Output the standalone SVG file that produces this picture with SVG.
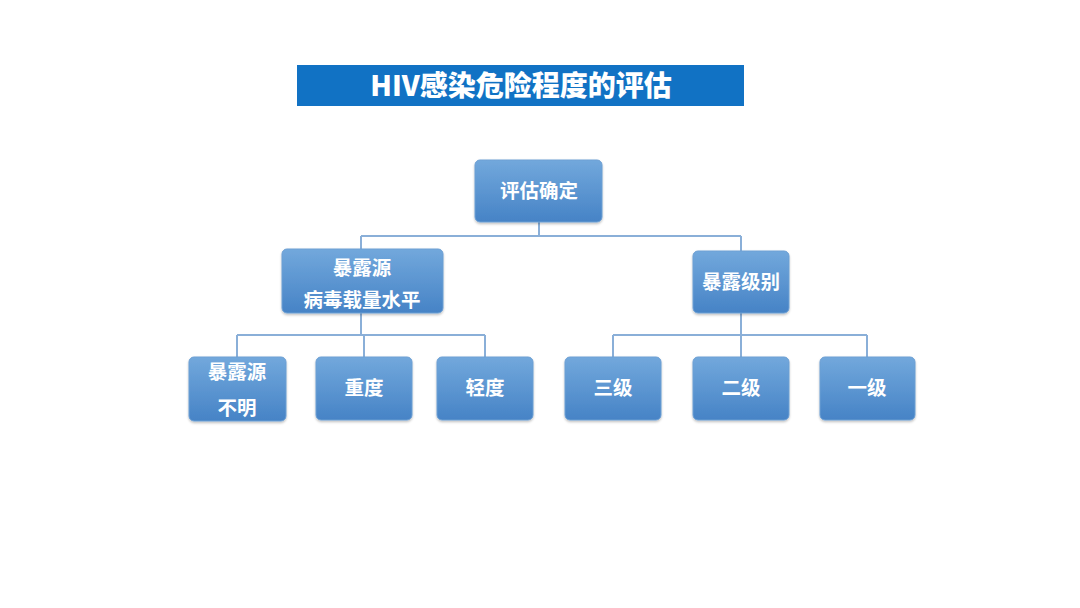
<svg xmlns="http://www.w3.org/2000/svg" width="1080" height="608" viewBox="0 0 1080 608">
<defs>
<linearGradient id="g" x1="0" y1="0" x2="0" y2="1">
<stop offset="0" stop-color="#72A8DC"/>
<stop offset="1" stop-color="#4683C6"/>
</linearGradient>
<filter id="sh" x="-10%" y="-10%" width="120%" height="130%">
<feDropShadow dx="0" dy="1.5" stdDeviation="1.2" flood-color="#000" flood-opacity="0.25"/>
</filter>
</defs>
<style>
.n{fill:url(#g);stroke:#6C9FD3;stroke-width:1;filter:url(#sh)}
.t{font-family:"Noto Sans CJK SC","Noto Sans",sans-serif;font-weight:bold;font-size:19.5px;fill:#fff;text-anchor:middle}
.c{fill:none;stroke:#8AAFD8;stroke-width:2}
</style>
<rect width="1080" height="608" fill="#fff"/>
<g id="title">
<rect x="297" y="65" width="447" height="41" fill="#1172C4"/>
<text x="521" y="96" font-family="'Noto Sans CJK SC','Noto Sans',sans-serif" font-weight="900" font-size="28" fill="#fff" text-anchor="middle">HIV感染危险程度的评估</text>
</g>
<g id="connectors">
<path class="c" d="M539 222V236M361 236H741M361 236V249M741 236V251"/>
<path class="c" d="M361 313V335M237 335H485M237 335V357M364 335V357M485 335V357"/>
<path class="c" d="M741 313V335M613 335H867M613 335V357M741 335V357M867 335V357"/>
</g>
<g id="n-root"><rect class="n" x="475" y="160" width="127" height="62" rx="5"/><text class="t" x="539" y="198">评估确定</text></g>
<g id="n-source"><rect class="n" x="282" y="249" width="161" height="64" rx="5"/><text class="t" x="362" y="275">暴露源</text><text class="t" x="362" y="307">病毒载量水平</text></g>
<g id="n-level"><rect class="n" x="693" y="251" width="96" height="62" rx="5"/><text class="t" x="741" y="289">暴露级别</text></g>
<g id="n-unknown"><rect class="n" x="189" y="357" width="97" height="64" rx="5"/><text class="t" x="237" y="379">暴露源</text><text class="t" x="237" y="415">不明</text></g>
<g id="n-severe"><rect class="n" x="316" y="357" width="96" height="63" rx="5"/><text class="t" x="364" y="395">重度</text></g>
<g id="n-mild"><rect class="n" x="437" y="357" width="96" height="63" rx="5"/><text class="t" x="485" y="395">轻度</text></g>
<g id="n-l3"><rect class="n" x="565" y="357" width="96" height="63" rx="5"/><text class="t" x="613" y="395">三级</text></g>
<g id="n-l2"><rect class="n" x="693" y="357" width="96" height="63" rx="5"/><text class="t" x="741" y="395">二级</text></g>
<g id="n-l1"><rect class="n" x="820" y="357" width="95" height="63" rx="5"/><text class="t" x="867" y="395">一级</text></g>
</svg>
